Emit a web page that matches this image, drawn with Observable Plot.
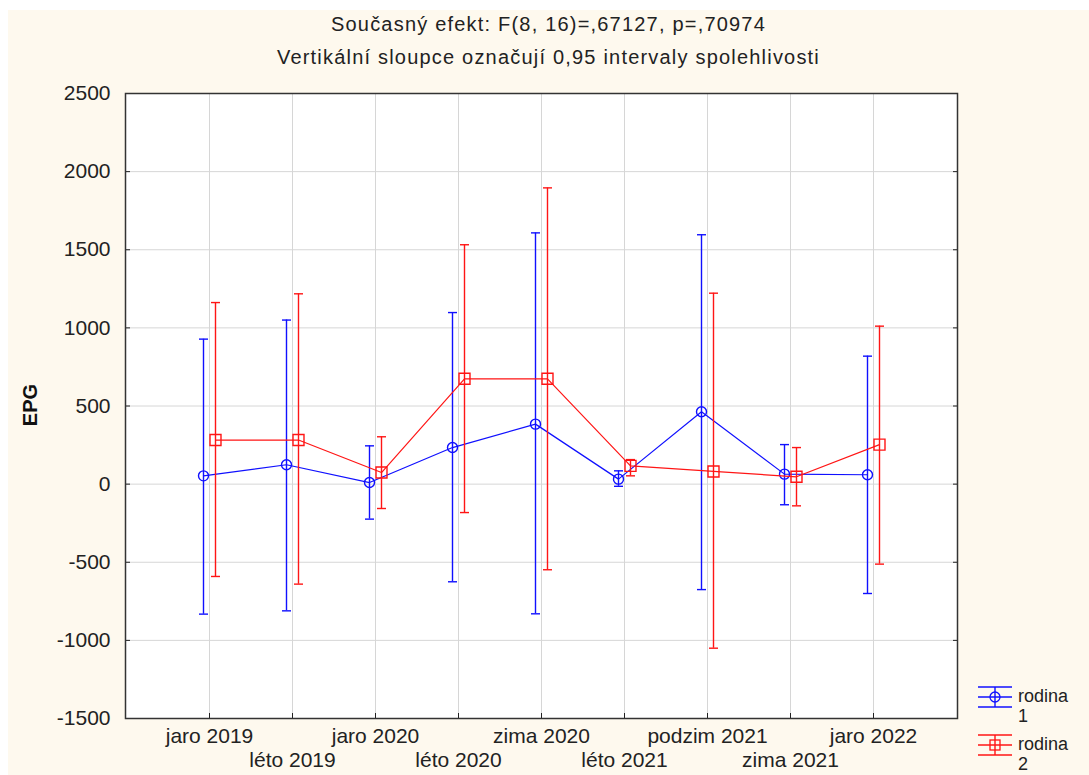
<!DOCTYPE html>
<html>
<head>
<meta charset="utf-8">
<script src="https://cdn.jsdelivr.net/npm/d3@7"></script>
<script src="https://cdn.jsdelivr.net/npm/@observablehq/plot@0.6"></script>
<style>
  html, body { margin: 0; padding: 0; background: #ffffff; }
  #wrap { position: relative; width: 1089px; height: 775px; overflow: hidden; background: #ffffff;
          font-family: "Liberation Sans", Arial, sans-serif; color: #222; }
  #cream { position: absolute; left: 8px; top: 10px; right: 0; bottom: 0; background: #fef9ee; }
  #title { position: absolute; left: 8px; right: 0; top: 8px; text-align: center; font-size: 20px; letter-spacing: 1.2px; line-height: 33px; color: #222; }
  #chart { position: absolute; left: 0; top: 0; }
  #ylabel { position: absolute; left: 30px; top: 405px; transform: translate(-50%,-50%) rotate(-90deg);
            font-weight: bold; font-size: 20px; color: #111; }
  .leg { position: absolute; left: 976px; font-size: 18px; line-height: 20px; color: #222; }
  .leg svg { position: absolute; left: 0; top: 0; }
  .leg span { position: absolute; left: 42px; top: 1px; white-space: nowrap; }
</style>
</head>
<body>
<div id="wrap">
  <div id="cream"></div>
  <div id="title">Současný efekt: F(8, 16)=,67127, p=,70974<br>Vertikální sloupce označují 0,95 intervaly spolehlivosti</div>
  <div id="chart"></div>
  <div id="ylabel">EPG</div>
  <div class="leg" id="leg1" style="top:685px"></div>
  <div class="leg" id="leg2" style="top:733px"></div>
</div>
<script>
const categories = ["jaro 2019","léto 2019","jaro 2020","léto 2020","zima 2020","léto 2021","podzim 2021","zima 2021","jaro 2022"];
const seriesNames = ["rodina 1", "rodina 2"];
const rodina1Mean  = [53, 124, 10, 234, 384, 32, 463, 64, 60];
const rodina1Upper = [928, 1050, 245, 1098, 1608, 85, 1596, 253, 819];
const rodina1Lower = [-832, -811, -224, -625, -830, -14, -675, -132, -700];
const rodina2Mean  = [282, 282, 74, 674, 674, 117, 81, 47, 253];
const rodina2Upper = [1162, 1218, 303, 1532, 1896, 157, 1222, 234, 1011];
const rodina2Lower = [-591, -640, -156, -182, -548, 53, -1050, -139, -512];
const yTicks = [-1500, -1000, -500, 0, 500, 1000, 1500, 2000, 2500];

const BLUE = "#1010ff", RED = "#ff1515";
const rows1 = categories.map((c, i) => ({cat: c, mean: rodina1Mean[i], upper: rodina1Upper[i], lower: rodina1Lower[i]}));
const rows2 = categories.map((c, i) => ({cat: c, mean: rodina2Mean[i], upper: rodina2Upper[i], lower: rodina2Lower[i]}));
const labelRows = categories.map((c, i) => ({cat: c, row: i % 2}));

const cap = { draw(ctx) { ctx.moveTo(-4.5, 0); ctx.lineTo(4.5, 0); } };

function seriesMarks(rows, color, dx, symbol, r) {
  return [
    Plot.ruleX(rows, {x: "cat", y1: "lower", y2: "upper", stroke: color, strokeWidth: 1.4, dx}),
    Plot.dot(rows, {x: "cat", y: "upper", symbol: cap, stroke: color, strokeWidth: 1.4, dx}),
    Plot.dot(rows, {x: "cat", y: "lower", symbol: cap, stroke: color, strokeWidth: 1.4, dx}),
    Plot.line(rows, {x: "cat", y: "mean", stroke: color, strokeWidth: 1.2, dx}),
    Plot.dot(rows, {x: "cat", y: "mean", symbol, r, stroke: color, strokeWidth: 1.4, fill: "none", dx})
  ];
}

const chart = Plot.plot({
  width: 1089,
  height: 775,
  marginLeft: 125,
  marginRight: 132,
  marginTop: 93,
  marginBottom: 57,
  style: {background: "transparent", fontFamily: "'Liberation Sans', Arial, sans-serif", fontSize: "21px", color: "#222"},
  x: {type: "point", domain: categories, padding: 1},
  y: {domain: [-1500, 2500]},
  marks: [
    Plot.frame({fill: "white", stroke: "none"}),
    Plot.gridY(yTicks, {stroke: "#d6d6d6", strokeOpacity: 1, strokeWidth: 1}),
    Plot.gridX(categories, {stroke: "#d6d6d6", strokeOpacity: 1, strokeWidth: 1}),
    Plot.axisY(yTicks, {anchor: "left", tickSize: 0, tickPadding: 15, tickFormat: d => String(d), label: null, fill: "#222", fontSize: 21, letterSpacing: 0.5}),
    Plot.axisY(yTicks, {anchor: "left", tickSize: -5, tickFormat: () => "", label: null, stroke: "#222"}),
    Plot.axisY(yTicks, {anchor: "right", tickSize: -5, tickFormat: () => "", label: null, stroke: "#222"}),
    Plot.axisX(categories, {anchor: "bottom", tickSize: -5, tickFormat: () => "", label: null, stroke: "#222"}),
    Plot.text(labelRows, {x: "cat", text: "cat", frameAnchor: "bottom", dy: 24, filter: d => d.row === 0, fill: "#222", fontSize: 21, letterSpacing: 1}),
    Plot.text(labelRows, {x: "cat", text: "cat", frameAnchor: "bottom", dy: 48, filter: d => d.row === 1, fill: "#222", fontSize: 21, letterSpacing: 1}),
    ...seriesMarks(rows1, BLUE, -6, "circle", 5),
    ...seriesMarks(rows2, RED, 6, "square", 6.2),
    Plot.frame({stroke: "#333", strokeWidth: 1.5})
  ]
});
document.getElementById("chart").appendChild(chart);

function legendIcon(color, isCircle) {
  const marker = isCircle
    ? `<circle cx="19" cy="12" r="5" fill="none" stroke="${color}" stroke-width="1.3"/>`
    : `<rect x="14" y="7" width="10" height="10" fill="none" stroke="${color}" stroke-width="1.3"/>`;
  return `<svg width="40" height="26"><g stroke="${color}" stroke-width="1.4">
    <line x1="2" y1="2" x2="36" y2="2"/><line x1="2" y1="12" x2="36" y2="12"/><line x1="2" y1="22" x2="36" y2="22"/>
    <line x1="19" y1="2" x2="19" y2="22"/></g>${marker}</svg>`;
}
const [n1a, n1b] = seriesNames[0].split(" ");
const [n2a, n2b] = seriesNames[1].split(" ");
document.getElementById("leg1").innerHTML = legendIcon(BLUE, true) + `<span>${n1a}<br>${n1b}</span>`;
document.getElementById("leg2").innerHTML = legendIcon(RED, false) + `<span>${n2a}<br>${n2b}</span>`;
</script>
</body>
</html>
